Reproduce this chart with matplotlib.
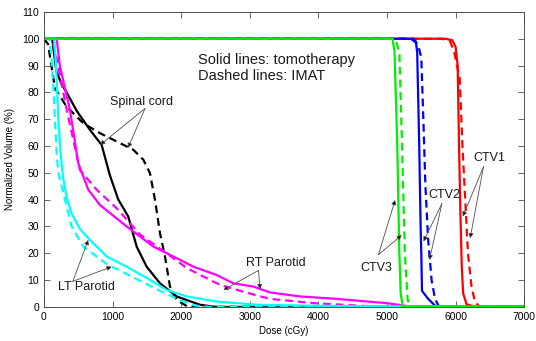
import numpy as np
import matplotlib
matplotlib.use("Agg")
from matplotlib import pyplot as plt

plt.rcParams["font.family"] = ["Liberation Sans", "DejaVu Sans"]

# dose-volume curves (dose in cGy, volume in %)
ctv1_tomo_dose = [0, 5850, 5950, 6000, 6030, 6050, 6070, 6090, 6110, 6160, 6250, 6400, 7000]
ctv1_tomo_vol = [100, 100, 99.5, 97, 90, 60, 35, 15, 5, 1, 0.3, 0, 0]
ctv1_imat_dose = [0, 5800, 5920, 5980, 6060, 6100, 6140, 6180, 6230, 6280, 6350, 7000]
ctv1_imat_vol = [100, 100, 99, 95, 85, 60, 40, 20, 8, 2, 0, 0]

ctv2_tomo_dose = [0, 5380, 5420, 5440, 5470, 5490, 5500, 5510, 5600, 5700, 5730, 7000]
ctv2_tomo_vol = [100, 100, 99, 95, 60, 30, 20, 6, 3, 0.5, 0, 0]
ctv2_imat_dose = [0, 5350, 5450, 5500, 5530, 5560, 5600, 5650, 5700, 5760, 7000]
ctv2_imat_vol = [100, 100, 98, 93, 70, 45, 25, 10, 3, 0, 0]

ctv3_tomo_dose = [0, 5080, 5110, 5150, 5180, 5200, 5230, 7000]
ctv3_tomo_vol = [100, 100, 95, 60, 20, 5, 0, 0]
ctv3_imat_dose = [0, 5120, 5180, 5220, 5260, 5300, 5330, 7000]
ctv3_imat_vol = [100, 100, 95, 60, 20, 3, 0, 0]

cord_tomo_dose = [0, 120, 180, 258, 330, 480, 671, 841, 962, 1084, 1229, 1351, 1497,
                  1691, 1934, 2274, 2500, 7000]
cord_tomo_vol = [100, 100, 88, 83, 80, 73, 66, 60.4, 49, 40, 33.7, 22.5, 15,
                 8.8, 3.9, 0.8, 0, 0]
cord_imat_dose = [0, 60, 160, 330, 573, 816, 1059, 1302, 1448, 1545, 1618, 1691,
                  1764, 1837, 1934, 2100, 7000]
cord_imat_vol = [100, 98, 81.6, 74.7, 68.5, 64.8, 61.7, 58.6, 54.9, 49.9, 40, 27.5,
                 18.8, 7.6, 2.6, 0, 0]

rtp_tomo_dose = [0, 185, 233, 379, 500, 646, 816, 1205, 1594, 1885, 2177, 2517, 2760,
                 3051, 3294, 3732, 4266, 4995, 5300, 7000]
rtp_tomo_vol = [100, 100, 89.7, 73.5, 53.6, 43.7, 38, 30, 22.5, 18.8, 15, 11.9, 8.8,
                7.6, 5.4, 3.9, 3.0, 1.4, 0.3, 0]
rtp_imat_dose = [0, 120, 160, 331, 525, 768, 1059, 1400, 1788, 2080, 2566, 2955, 3294,
                 3926, 4650, 5000, 7000]
rtp_imat_vol = [100, 100, 95.9, 73.5, 51, 43.7, 36.8, 27, 20, 14.5, 8.2, 5.3, 3,
                1.4, 0.4, 0, 0]

ltp_tomo_dose = [0, 150, 180, 210, 240, 280, 330, 400, 525, 670, 914, 1205, 1497,
                 1788, 2080, 2517, 3100, 4000, 5000, 7000]
ltp_tomo_vol = [100, 100, 88, 70, 58, 48, 41, 35, 29, 25, 18.8, 15, 10.8,
                6.3, 3.9, 2, 0.8, 0.4, 0.2, 0]
ltp_imat_dose = [0, 80, 110, 140, 185, 210, 306, 403, 573, 914, 1302, 1691, 1982,
                 2200, 2400, 7000]
ltp_imat_vol = [100, 100, 93, 80, 57, 50, 40, 30, 22.5, 16, 11, 6, 2.5, 0.5, 0, 0]

structures = [
    ("CTV1", "#ff0000", ctv1_tomo_dose, ctv1_tomo_vol, ctv1_imat_dose, ctv1_imat_vol),
    ("CTV2", "#0000ff", ctv2_tomo_dose, ctv2_tomo_vol, ctv2_imat_dose, ctv2_imat_vol),
    ("Spinal cord", "k", cord_tomo_dose, cord_tomo_vol, cord_imat_dose, cord_imat_vol),
    ("RT Parotid", "#ff00ff", rtp_tomo_dose, rtp_tomo_vol, rtp_imat_dose, rtp_imat_vol),
    ("LT Parotid", "#00ffff", ltp_tomo_dose, ltp_tomo_vol, ltp_imat_dose, ltp_imat_vol),
    ("CTV3", "#00ee00", ctv3_tomo_dose, ctv3_tomo_vol, ctv3_imat_dose, ctv3_imat_vol),
]

# label text position, arrow start, arrow targets (data coords)
labels = {
    "Spinal cord": ((1429, 76.5), (1473, 74), [(817, 60.4), (1225, 59.3)]),
    "LT Parotid": ((612, 7.5), (420, 9.5), [(646, 25), (987, 15)]),
    "RT Parotid": ((3383, 16.4), (3127, 13.6), [(2615, 6.3), (3150, 6.6)]),
    "CTV3": ((4841, 14.4), (4876, 19.5), [(5119, 39.9), (5216, 26.8)]),
    "CTV2": ((5833, 41.8), (5800, 38.5), [(5532, 24.4), (5619, 17.5)]),
    "CTV1": ((6490, 55.6), (6407, 52.3), [(6105, 33.7), (6212, 25.6)]),
}

fig = plt.figure(figsize=(5.36, 3.41), dpi=100)
ax = fig.add_axes([0.082, 0.1, 0.896, 0.865])

for name, color, td, tv, idose, iv in structures:
    ax.plot(idose, iv, color=color, lw=1.6, ls=(0, (3.5, 2.2)))
    ax.plot(td, tv, color=color, lw=1.6)

for name, (txt, start, targets) in labels.items():
    ax.text(txt[0], txt[1], name, ha="center", va="center", fontsize=9, color="0.1")
    for tx, ty in targets:
        ax.annotate("", xy=(tx, ty), xytext=start,
                    arrowprops=dict(arrowstyle="-|>", fc="k", ec="0.3", lw=0.6,
                                    mutation_scale=7, shrinkA=0, shrinkB=0))

ax.text(2245, 92, "Solid lines: tomotherapy", fontsize=10.5, va="center", color="0.1")
ax.text(2245, 86, "Dashed lines: IMAT", fontsize=10.5, va="center", color="0.1")

ax.set_xlim(0, 7000)
ax.set_ylim(0, 110)
ax.set_xticks(np.arange(0, 7001, 1000))
ax.set_yticks(np.arange(0, 111, 10))
ax.tick_params(direction="in", top=True, right=True, length=4, width=0.6,
               labelsize=7.5, color="0.3")
for s in ax.spines.values():
    s.set_linewidth(0.7)
    s.set_color("0.3")
ax.set_xlabel("Dose (cGy)", fontsize=7, labelpad=3)
ax.set_ylabel("Normalized Volume (%)", fontsize=7, labelpad=5)

fig.savefig("out.png", dpi=100)
